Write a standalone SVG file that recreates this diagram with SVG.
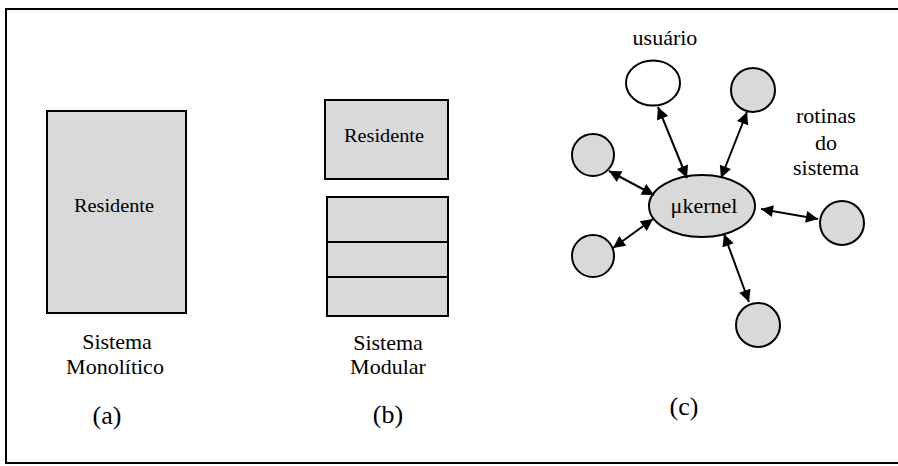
<svg xmlns="http://www.w3.org/2000/svg" width="898" height="466" viewBox="0 0 898 466">
  <style>
    .frame { fill: #ffffff; stroke: #000000; stroke-width: 2; }
    .box { fill: #d9d9d9; stroke: #000000; stroke-width: 2; }
    .blank { fill: #ffffff; stroke: #000000; stroke-width: 2; }
    .sep { stroke: #000000; stroke-width: 2; fill: none; }
    .edge { stroke: #000000; stroke-width: 2; fill: none; marker-start: url(#arrow); marker-end: url(#arrow); }
    text { font-family: "Liberation Serif", "Times New Roman", Tinos, "Nimbus Roman", "Noto Serif", "DejaVu Serif", serif; fill: #000000; text-anchor: middle; }
    .small { font-size: 19px; }
    .label { font-size: 22px; }
    .tag { font-size: 26px; }
  </style>
  <defs>
    <marker id="arrow" viewBox="0 0 10 10" refX="10" refY="5" markerWidth="6.5" markerHeight="6" orient="auto-start-reverse" markerUnits="strokeWidth">
      <path d="M0,0 L10,5 L0,10 Z" fill="#000000"/>
    </marker>
  </defs>

  <!-- outer border -->
  <rect class="frame" x="6" y="9" width="894" height="454"/>

  <!-- (a) monolithic system -->
  <g id="monolitico">
    <rect class="box" x="47" y="111" width="139" height="202"/>
    <text class="small" x="114" y="212" textLength="80" lengthAdjust="spacingAndGlyphs">Residente</text>
    <text class="label" x="117" y="349">Sistema</text>
    <text class="label" x="115" y="374">Monolítico</text>
    <text class="tag" x="107" y="424">(a)</text>
  </g>

  <!-- (b) modular system -->
  <g id="modular">
    <rect class="box" x="325" y="100" width="123" height="79"/>
    <text class="small" x="384" y="142" textLength="80" lengthAdjust="spacingAndGlyphs">Residente</text>
    <rect class="box" x="327" y="197" width="121" height="119"/>
    <line class="sep" x1="327" y1="242" x2="448" y2="242"/>
    <line class="sep" x1="327" y1="277" x2="448" y2="277"/>
    <text class="label" x="388" y="350">Sistema</text>
    <text class="label" x="388" y="374">Modular</text>
    <text class="tag" x="388" y="423">(b)</text>
  </g>

  <!-- (c) microkernel -->
  <g id="kernel">
    <ellipse class="box" cx="702" cy="206" rx="53" ry="31"/>
    <text class="label" x="704" y="213">μkernel</text>
  </g>
  <g id="usuario">
    <ellipse class="blank" cx="653" cy="83" rx="27" ry="22.5"/>
    <text class="label" x="665" y="45">usuário</text>
  </g>
  <g id="rotina-topo">
    <circle class="box" cx="753" cy="90" r="22"/>
  </g>
  <g id="rotina-esq-sup">
    <circle class="box" cx="593" cy="155" r="21"/>
  </g>
  <g id="rotina-esq-inf">
    <circle class="box" cx="593" cy="256" r="21"/>
  </g>
  <g id="rotina-dir">
    <circle class="box" cx="842" cy="223" r="22"/>
  </g>
  <g id="rotina-base">
    <circle class="box" cx="758" cy="325" r="22"/>
  </g>
  <g id="rotulo-rotinas">
    <text class="label" x="826" y="123">rotinas</text>
    <text class="label" x="826" y="150">do</text>
    <text class="label" x="826" y="175">sistema</text>
  </g>
  <text class="tag" x="684" y="415">(c)</text>

  <!-- connectors -->
  <g id="connectors">
    <line class="edge" x1="658" y1="107" x2="687" y2="178"/>
    <line class="edge" x1="747" y1="112" x2="721" y2="178"/>
    <line class="edge" x1="609" y1="171" x2="654" y2="195"/>
    <line class="edge" x1="653" y1="219" x2="613" y2="248"/>
    <line class="edge" x1="761" y1="209" x2="818" y2="219"/>
    <line class="edge" x1="724" y1="234" x2="749" y2="302"/>
  </g>
</svg>
